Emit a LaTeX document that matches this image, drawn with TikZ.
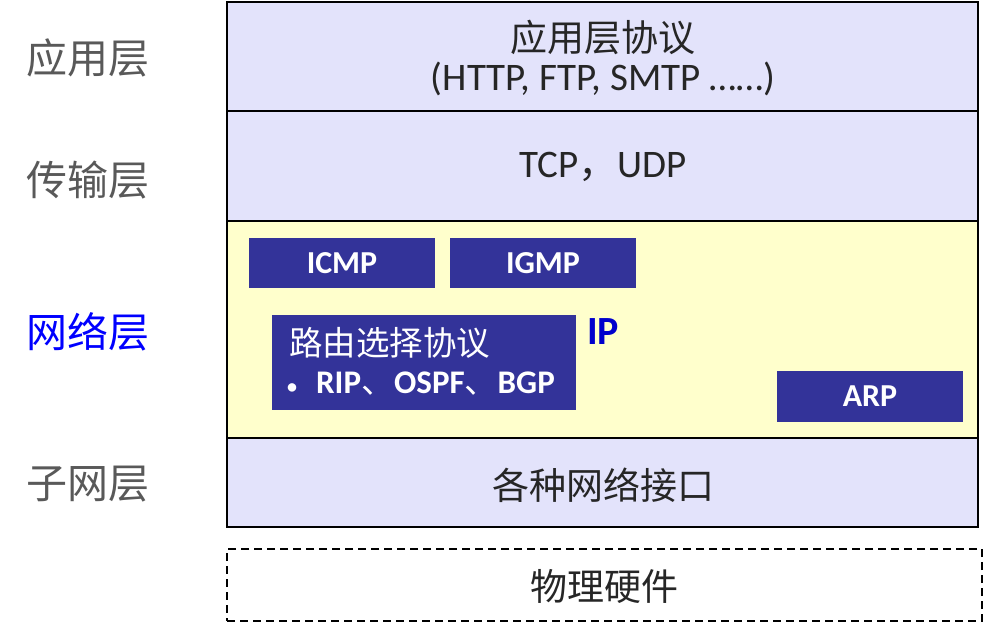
\documentclass[tikz,border=0pt]{standalone}
\usepackage{fontspec}
\setmainfont{Carlito}
\newfontfamily\cjk{Noto Sans CJK SC}
\definecolor{lav}{RGB}{227,227,251}
\definecolor{ylw}{RGB}{255,255,204}
\definecolor{navy}{RGB}{51,51,153}
\definecolor{ipblue}{RGB}{0,0,204}
\definecolor{lblgray}{RGB}{89,89,89}
\definecolor{lblblue}{RGB}{0,0,255}
\tikzset{
  layer/.style={draw=black, line width=2pt, inner sep=0pt, minimum width=751pt},
  proto/.style={fill=navy, text=white, inner sep=0pt, minimum width=186pt, minimum height=50pt, font=\fontsize{32}{34}\selectfont\bfseries},
  maintext/.style={inner sep=0pt, text=black!85, font=\fontsize{39}{42}\selectfont},
  cjktext/.style={inner sep=0pt, text=black!85, font=\cjk\fontsize{37}{40}\selectfont},
  sidelbl/.style={inner sep=0pt, text=lblgray, font=\cjk\fontsize{41}{44}\selectfont},
}
\begin{document}
\begin{tikzpicture}[x=1pt,y=-1pt]
\useasboundingbox (0,0) rectangle (984,632);
% layers
\node[layer, fill=lav, minimum height=109pt] (app) at (602.5,56.5) {};
\node[layer, fill=lav, minimum height=110pt] (trans) at (602.5,166) {};
\node[layer, fill=ylw, minimum height=217pt] (net) at (602.5,329.5) {};
\node[layer, fill=lav, minimum height=89pt] (sub) at (602.5,482.5) {};
\node[draw=black, line width=2pt, dash pattern=on 8pt off 5pt, inner sep=0pt, minimum width=755pt, minimum height=72pt] (phys) at (604.5,585) {};
% texts in layers
\node[cjktext] (apptitle) at (603,37) {应用层协议};
\node[maintext] (appprot) at (603,79) {(HTTP, FTP, SMTP ……)};
\node[maintext] (transtxt) at (603,167) {TCP{\cjk ，}UDP};
\node[cjktext] (subtxt) at (603,485) {各种网络接口};
\node[cjktext] (phystxt) at (604,586) {物理硬件};
% network layer protocols
\node[proto] (icmp) at (342,263) {ICMP};
\node[proto] (igmp) at (543,263) {IGMP};
\node[proto, minimum height=51pt] (arp) at (870,396.5) {ARP};
\node[fill=navy, inner sep=0pt, minimum width=304pt, minimum height=95pt] (route) at (424,362.5) {};
\node[anchor=west, inner sep=0pt, text=white, font=\cjk\fontsize{33.5}{36}\selectfont] (routetitle) at (289,343) {路由选择协议};
\node[anchor=west, inner sep=0pt, text=white, font=\fontsize{33}{35}\selectfont\bfseries] (routelist) at (287,384) {{\fontsize{20}{20}\selectfont\textbullet}\hspace{19pt}RIP{\cjk\mdseries 、}OSPF{\cjk\mdseries 、}BGP};
\node[inner sep=0pt, text=ipblue, font=\fontsize{40}{42}\selectfont\bfseries] (ip) at (603,332) {IP};
% side labels
\node[sidelbl] (lapp) at (88,58) {应用层};
\node[sidelbl] (ltrans) at (88,180) {传输层};
\node[sidelbl, text=lblblue] (lnet) at (88,332) {网络层};
\node[sidelbl] (lsub) at (88,484) {子网层};
\end{tikzpicture}
\end{document}
